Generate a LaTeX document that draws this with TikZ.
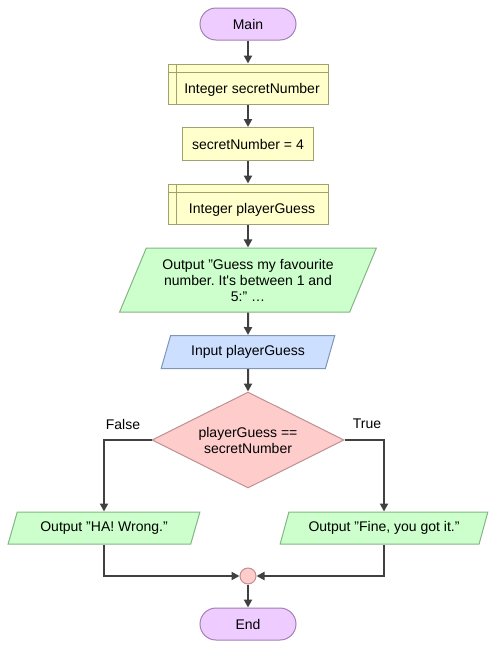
\documentclass[tikz,border=0pt]{standalone}
\usepackage{fontspec}
\setmainfont{Liberation Sans}
\usetikzlibrary{shapes.geometric,arrows.meta}
\definecolor{termfill}{HTML}{EECCFF}
\definecolor{termline}{HTML}{A080B0}
\definecolor{declfill}{HTML}{FFFFCC}
\definecolor{declline}{HTML}{A0A070}
\definecolor{infill}{HTML}{CCDFFF}
\definecolor{inline}{HTML}{8095B8}
\definecolor{outfill}{HTML}{CCFFCC}
\definecolor{outline}{HTML}{85B585}
\definecolor{decfill}{HTML}{FFCCCC}
\definecolor{decline}{HTML}{C09090}
\definecolor{flow}{HTML}{404040}

\begin{document}
\frenchspacing
\begin{tikzpicture}[x=1pt, y=-1pt,
	every node/.style={font=\fontsize{14}{16}\selectfont},
	base/.style={draw, line width=1pt, inner sep=0pt},
	terminal/.style={base, draw=termline, fill=termfill, rounded corners=16pt,
		minimum width=96pt, minimum height=32pt},
	assign/.style={base, draw=declline, fill=declfill, minimum height=33pt},
	decl/.style={assign, minimum width=160pt, minimum height=40pt,
		path picture={
			\draw[declline, line width=1pt]
				([xshift=8pt]path picture bounding box.north west) --
				([xshift=8pt]path picture bounding box.south west);
			\draw[declline, line width=1pt]
				([yshift=-8pt]path picture bounding box.north west) --
				([yshift=-8pt]path picture bounding box.north east);
		}},
	io/.style={base, trapezium, trapezium left angle=62, trapezium right angle=118,
		trapezium stretches=true},
	output/.style={io, draw=outline, fill=outfill},
	input/.style={io, draw=inline, fill=infill},
	decision/.style={base, diamond, aspect=2, draw=decline, fill=decfill,
		minimum width=192pt, minimum height=96pt, align=center},
	merge/.style={base, circle, draw=decline, fill=decfill, minimum size=16pt},
	flowline/.style={draw=flow, line width=2pt, -{Triangle[length=8pt,width=8pt]}}
]
\useasboundingbox (0,0) rectangle (497,649);

% nodes
\node[terminal] (main) at (248,24) {Main};
\node[decl] (decA) at (248,84) {\hspace*{8pt}\raisebox{-9pt}[0pt][0pt]{Integer secretNumber}};
\node[assign, minimum width=131pt] (set) at (248,144) {secretNumber = 4};
\node[decl] (decB) at (248,204) {\hspace*{8pt}\raisebox{-9pt}[0pt][0pt]{Integer playerGuess}};
\node[output, minimum width=257pt, minimum height=64pt, align=center] (ask) at (248,280)
	{Output "Guess my favourite\\number. It\textquotesingle s between 1 and\\5:" \ldots};
\node[input, minimum width=174pt, minimum height=33pt] (guess) at (248,352) {Input playerGuess};
\node[decision] (test) at (248,440) {playerGuess ==\\secretNumber};
\node[output, minimum width=192pt, minimum height=32pt] (wrong) at (104,528) {Output "HA! Wrong."};
\node[output, minimum width=208pt, minimum height=32pt] (right) at (384,528) {Output "Fine, you got it."};
\node[merge] (join) at (248,576) {};
\node[terminal] (end) at (248,624) {End};
\node (lblF) at (123,424) {False};
\node (lblT) at (367,424) {True};

% connectors
\draw[flowline] (main) -- (decA);
\draw[flowline] (decA) -- (set);
\draw[flowline] (set) -- (decB);
\draw[flowline] (decB) -- (ask);
\draw[flowline] (ask) -- (guess);
\draw[flowline] (guess) -- (test);
\draw[flowline] (test.west) -| (wrong.north);
\draw[flowline] (test.east) -| (right.north);
\draw[flowline] (wrong.south) |- (join.west);
\draw[flowline] (right.south) |- (join.east);
\draw[flowline] (join) -- (end);
\end{tikzpicture}
\end{document}
